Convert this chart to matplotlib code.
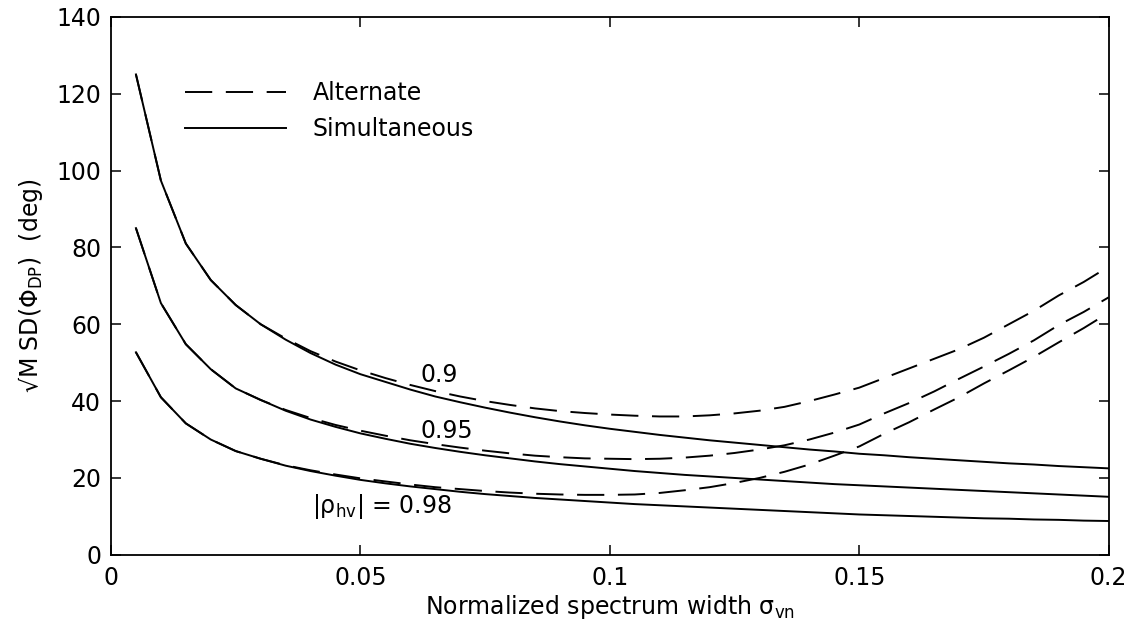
import numpy as np
import matplotlib
matplotlib.use('Agg')
import matplotlib.pyplot as plt

# normalized spectrum width
sigma_vn = [0.005, 0.010, 0.015, 0.020, 0.025, 0.030, 0.035, 0.040, 0.045, 0.050,
            0.055, 0.060, 0.065, 0.070, 0.075, 0.080, 0.085, 0.090, 0.095, 0.100,
            0.105, 0.110, 0.115, 0.120, 0.125, 0.130, 0.135, 0.140, 0.145, 0.150,
            0.155, 0.160, 0.165, 0.170, 0.175, 0.180, 0.185, 0.190, 0.195, 0.200]

# simultaneous mode
simult_090 = [125.0, 97.4, 81.0, 71.5, 65.0, 60.0, 56.0, 52.5, 49.5, 47.0,
              45.0, 43.0, 41.2, 39.7, 38.3, 37.0, 35.8, 34.7, 33.7, 32.8,
              32.0, 31.2, 30.5, 29.8, 29.2, 28.6, 28.0, 27.4, 26.9, 26.3,
              25.9, 25.4, 25.0, 24.6, 24.2, 23.8, 23.5, 23.1, 22.8, 22.5]
simult_095 = [85.0, 65.5, 54.8, 48.3, 43.3, 40.3, 37.5, 35.2, 33.3, 31.6,
              30.2, 28.9, 27.8, 26.8, 25.9, 25.1, 24.3, 23.6, 23.0, 22.4,
              21.8, 21.3, 20.8, 20.4, 20.0, 19.6, 19.2, 18.8, 18.4, 18.1,
              17.8, 17.5, 17.2, 16.9, 16.6, 16.3, 16.0, 15.7, 15.4, 15.1]
simult_098 = [52.7, 41.0, 34.2, 30.0, 27.0, 25.0, 23.2, 21.8, 20.6, 19.5,
              18.6, 17.8, 17.1, 16.4, 15.8, 15.3, 14.8, 14.4, 14.0, 13.6,
              13.2, 12.9, 12.6, 12.3, 12.0, 11.7, 11.4, 11.1, 10.8, 10.5,
              10.3, 10.1, 9.9, 9.7, 9.5, 9.4, 9.2, 9.1, 8.9, 8.8]

# alternate mode
altern_090 = [125.0, 97.4, 81.0, 71.5, 65.0, 60.0, 56.3, 53.0, 50.3, 48.0,
              46.0, 44.2, 42.6, 41.2, 40.0, 39.0, 38.1, 37.4, 36.9, 36.5,
              36.2, 36.0, 36.0, 36.3, 36.8, 37.5, 38.5, 40.0, 41.7, 43.5,
              46.0, 48.5, 51.0, 53.5, 56.5, 60.0, 63.5, 67.5, 71.0, 75.0]
altern_095 = [85.0, 65.5, 54.8, 48.3, 43.3, 40.3, 37.7, 35.6, 33.8, 32.3,
              31.0, 29.8, 28.8, 27.9, 27.1, 26.4, 25.8, 25.4, 25.1, 25.0,
              24.9, 25.0, 25.3, 25.8, 26.5, 27.4, 28.5, 30.0, 31.8, 33.9,
              36.8, 39.5, 42.5, 45.8, 49.0, 52.3, 55.8, 59.8, 63.2, 67.0]
altern_098 = [52.7, 41.0, 34.2, 30.0, 27.0, 25.0, 23.3, 22.0, 20.9, 19.9,
              19.1, 18.3, 17.6, 17.1, 16.6, 16.2, 15.9, 15.7, 15.6, 15.6,
              15.7, 16.1, 16.8, 17.6, 18.7, 20.0, 21.6, 23.5, 25.8, 28.2,
              31.5, 34.5, 37.8, 41.0, 44.6, 48.0, 51.5, 55.3, 59.0, 63.0]

x_ticks = [0, 0.05, 0.1, 0.15, 0.2]
x_tick_labels = ['0', '0.05', '0.1', '0.15', '0.2']
y_ticks = [0, 20, 40, 60, 80, 100, 120, 140]

curve_labels = ['0.9', '0.95', '|ρ$_{\\mathrm{hv}}$| = 0.98']
label_x = [0.062, 0.062, 0.0403]
label_y = [46.7, 32.1, 12.5]

plt.rcParams['font.family'] = ['DejaVu Sans']
plt.rcParams['font.size'] = 17
plt.rcParams['mathtext.fontset'] = 'dejavusans'

fig = plt.figure(figsize=(11.35, 6.22), dpi=100)
ax = fig.add_axes([0.0978, 0.108, 0.879, 0.865])

dash = (0, (14, 7))
lw = 1.4

ax.plot(sigma_vn, altern_090, color='black', lw=lw, linestyle=dash, label='Alternate')
ax.plot(sigma_vn, simult_090, color='black', lw=lw, label='Simultaneous')
ax.plot(sigma_vn, altern_095, color='black', lw=lw, linestyle=dash)
ax.plot(sigma_vn, simult_095, color='black', lw=lw)
ax.plot(sigma_vn, altern_098, color='black', lw=lw, linestyle=dash)
ax.plot(sigma_vn, simult_098, color='black', lw=lw)

for txt, lx, ly in zip(curve_labels, label_x, label_y):
    ax.text(lx, ly, txt, ha='left', va='center', fontsize=17)

ax.set_xlim(0, 0.2)
ax.set_ylim(0, 140)
ax.set_xticks(x_ticks)
ax.set_xticklabels(x_tick_labels)
ax.set_yticks(y_ticks)
ax.tick_params(direction='in', length=7, width=1.1, top=True, right=True)
ax.tick_params(axis='x', pad=8)
ax.tick_params(axis='y', pad=7)
for sp in ax.spines.values():
    sp.set_linewidth(1.3)

ax.set_xlabel('Normalized spectrum width σ$_{\\mathrm{vn}}$', labelpad=2)
ax.set_ylabel('√M SD(Φ$_{\\mathrm{DP}}$)  (deg)', labelpad=8)

ax.legend(loc='upper left', bbox_to_anchor=(0.074, 0.88), frameon=False,
          handlelength=4.3, handletextpad=1.1, labelspacing=0.5, borderpad=0,
          borderaxespad=0, fontsize=17)

fig.savefig('out.png', dpi=100)
